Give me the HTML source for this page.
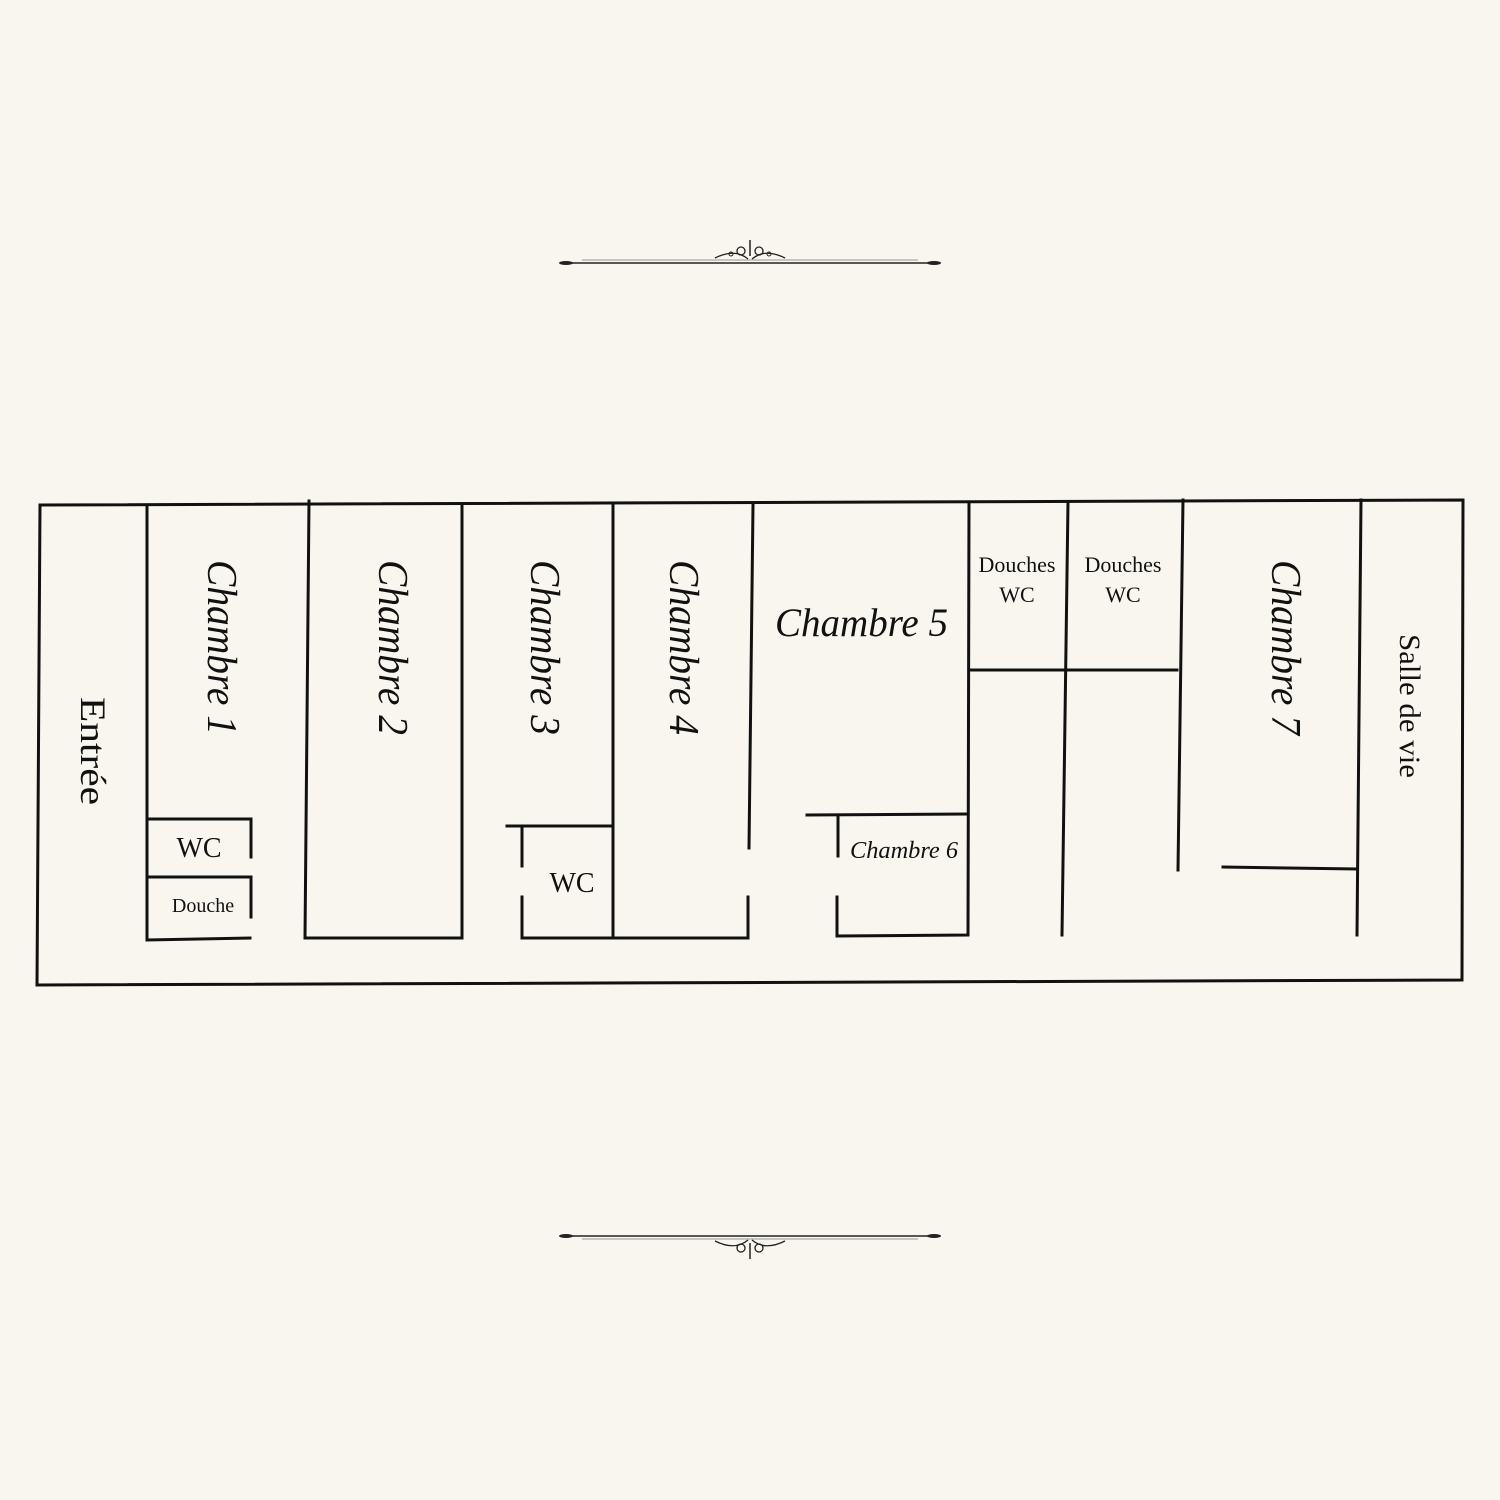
<!DOCTYPE html>
<html><head><meta charset="utf-8"><style>
html,body{margin:0;padding:0;background:#f8f6ee;}
svg{display:block;}
text{font-family:"Liberation Serif",serif;fill:#111;}
</style></head><body>
<svg width="1500" height="1500" viewBox="0 0 1500 1500" xmlns="http://www.w3.org/2000/svg">
<rect width="1500" height="1500" fill="#f8f6ee"/>
<!-- ornaments -->
<g stroke="#222" fill="none">
 <line x1="562" y1="263" x2="938" y2="263" stroke-width="1.5"/>
 <line x1="582" y1="260" x2="918" y2="260" stroke-width="0.8" stroke="#777"/>
 <path d="M715 258 Q735 248 748 259 M785 258 Q765 248 752 259" stroke-width="1.3"/>
 <circle cx="741" cy="251" r="4" stroke-width="1.3"/>
 <circle cx="759" cy="251" r="4" stroke-width="1.3"/>
 <circle cx="731" cy="254" r="2" stroke-width="1"/>
 <circle cx="769" cy="254" r="2" stroke-width="1"/>
 <line x1="750" y1="240" x2="750" y2="256" stroke-width="1.5"/>
 <line x1="562" y1="1236" x2="938" y2="1236" stroke-width="1.5"/>
 <line x1="582" y1="1239" x2="918" y2="1239" stroke-width="0.8" stroke="#777"/>
 <path d="M715 1241 Q735 1251 748 1240 M785 1241 Q765 1251 752 1240" stroke-width="1.3"/>
 <circle cx="741" cy="1248" r="4" stroke-width="1.3"/>
 <circle cx="759" cy="1248" r="4" stroke-width="1.3"/>
 <line x1="750" y1="1243" x2="750" y2="1259" stroke-width="1.5"/>
</g>
<g fill="#222"><ellipse cx="566" cy="263" rx="7" ry="2"/><ellipse cx="934" cy="263" rx="7" ry="2"/>
<ellipse cx="566" cy="1236" rx="7" ry="2"/><ellipse cx="934" cy="1236" rx="7" ry="2"/></g>
<!-- plan -->
<g stroke="#111" stroke-width="3" fill="none" stroke-linecap="square">
 <path d="M40 505 L1463 500 L1462 980 L37 985 Z"/>
 <path d="M147 505 L147 940 L250 938"/>
 <path d="M147 819 L251 819 L251 857"/>
 <path d="M147 877 L251 877 L251 917"/>
 <path d="M309 501 L305 938 L462 938 L462 505"/>
 <path d="M613 505 L613 938"/>
 <path d="M507 826 L613 826"/>
 <path d="M522 826 L522 866"/>
 <path d="M522 897 L522 938 L748 938 L748 897"/>
 <path d="M753 505 L749 848"/>
 <path d="M807 815 L968 814"/>
 <path d="M838 815 L838 856"/>
 <path d="M837 897 L837 936 L968 935 L969 502"/>
 <path d="M969 670 L1177 670"/>
 <path d="M1068 502 L1062 935"/>
 <path d="M1183 500 L1178 870"/>
 <path d="M1223 867 L1356 869"/>
 <path d="M1361 500 L1357 935"/>
</g>
<!-- labels -->
<text transform="translate(208,560) rotate(90)" font-size="42" font-style="italic" textLength="175" lengthAdjust="spacingAndGlyphs">Chambre 1</text>
<text transform="translate(379,560) rotate(90)" font-size="42" font-style="italic" textLength="175" lengthAdjust="spacingAndGlyphs">Chambre 2</text>
<text transform="translate(531,560) rotate(90)" font-size="42" font-style="italic" textLength="175" lengthAdjust="spacingAndGlyphs">Chambre 3</text>
<text transform="translate(670,560) rotate(90)" font-size="42" font-style="italic" textLength="175" lengthAdjust="spacingAndGlyphs">Chambre 4</text>
<text transform="translate(1272,560) rotate(90)" font-size="42" font-style="italic" textLength="175" lengthAdjust="spacingAndGlyphs">Chambre 7</text>
<text transform="translate(81,697) rotate(90)" font-size="36" textLength="108" lengthAdjust="spacingAndGlyphs">Entrée</text>
<text transform="translate(1400,634) rotate(90)" font-size="30" textLength="144" lengthAdjust="spacingAndGlyphs">Salle de vie</text>
<text x="775" y="636" font-size="40" font-style="italic" textLength="173" lengthAdjust="spacingAndGlyphs">Chambre 5</text>
<text x="850" y="858" font-size="24" font-style="italic" textLength="108" lengthAdjust="spacingAndGlyphs">Chambre 6</text>
<text x="1017" y="572" font-size="22" text-anchor="middle">Douches</text>
<text x="1017" y="602" font-size="22" text-anchor="middle">WC</text>
<text x="1123" y="572" font-size="22" text-anchor="middle">Douches</text>
<text x="1123" y="602" font-size="22" text-anchor="middle">WC</text>
<text x="199" y="857" font-size="28" text-anchor="middle">WC</text>
<text x="572" y="892" font-size="28" text-anchor="middle">WC</text>
<text x="203" y="912" font-size="20" text-anchor="middle">Douche</text>
</svg>
</body></html>
